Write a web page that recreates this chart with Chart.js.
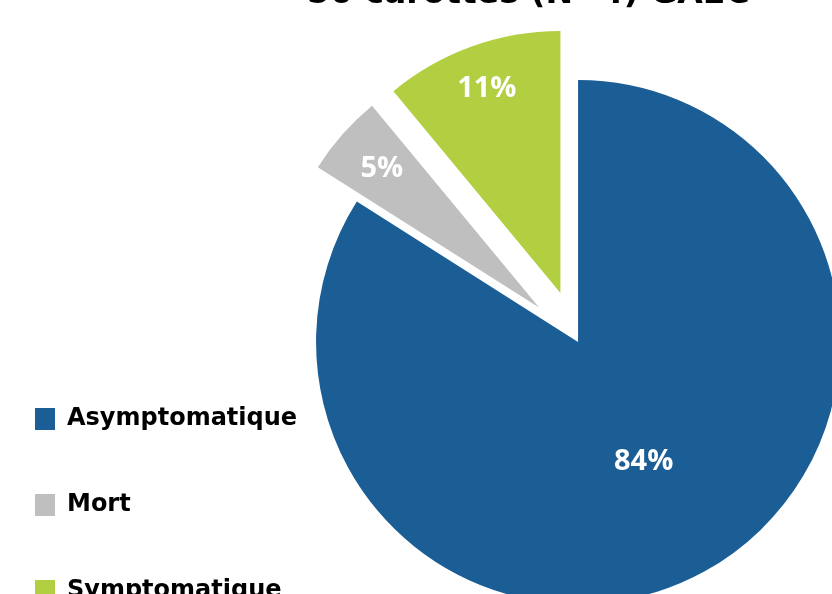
<!DOCTYPE html>
<html>
<head>
<meta charset="utf-8">
<script src="https://cdn.jsdelivr.net/npm/chart.js@4.4.1/dist/chart.umd.min.js"></script>
<style>
  html, body { margin: 0; padding: 0; background: #fff; overflow: hidden; width: 832px; height: 594px; }
  #wrap { position: absolute; left: 0; top: -35px; width: 849px; height: 700px; }
</style>
</head>
<body>
<div id="wrap"><canvas id="chart"></canvas></div>
<script>
const categories = ["Asymptomatique", "Mort", "Symptomatique"];
const values = [84, 5, 11];
const sliceColors = ["#1b5e96", "#bfbfbf", "#b2cf42"];
const chartTitle = "50 carottes (N=4) GAEC";

// pull out the small slices and write the % on each slice
const pieExtras = {
    id: "pieExtras",
    afterUpdate: function (chart) {
        var explode = [0, 52, 52];
        chart.getDatasetMeta(0).data.forEach(function (arc, i) {
            var mid = (arc.startAngle + arc.endAngle) / 2;
            arc.x += Math.cos(mid) * explode[i];
            arc.y += Math.sin(mid) * explode[i];
        });
    },
    afterDatasetsDraw: function (chart) {
        var ctx = chart.ctx;
        var dist = [0.52, 0.8, 0.83];
        chart.getDatasetMeta(0).data.forEach(function (arc, i) {
            var mid = (arc.startAngle + arc.endAngle) / 2;
            var r = arc.outerRadius * dist[i];
            ctx.save();
            ctx.fillStyle = "#fff";
            ctx.font = "bold 29px 'Open Sans'";
            ctx.textAlign = "center";
            ctx.textBaseline = "middle";
            ctx.fillText(values[i] + "%", arc.x + Math.cos(mid) * r, arc.y + Math.sin(mid) * r);
            ctx.restore();
        });
    }
};

var ctx = document.getElementById("chart").getContext("2d");
var myChart = new Chart(ctx, {
    type: "pie",
    data: {
        labels: categories,
        datasets: [
            {
                data: values,
                backgroundColor: sliceColors,
                borderWidth: 0,
                radius: 262,
            },
        ],
    },
    options: {
        responsive: true,
        maintainAspectRatio: false,
        animation: false,
        layout: {
            padding: { left: -27, top: 0, right: 0, bottom: 0 },
        },
        plugins: {
            title: {
                display: true,
                text: chartTitle,
                fullSize: false,
                align: "start",
                color: "#000",
                font: { family: "'DejaVu Sans'", size: 33, weight: "bold" },
                padding: { top: 10, bottom: 4.4 },
            },
            legend: {
                position: "left",
                align: "end",
                labels: {
                    boxWidth: 20,
                    boxHeight: 22,
                    padding: 62,
                    color: "#000",
                    font: { family: "'DejaVu Sans'", size: 24, weight: "bold" },
                },
            },
            tooltip: { enabled: false },
        },
    },
    plugins: [pieExtras],
});
</script>
</body>
</html>
